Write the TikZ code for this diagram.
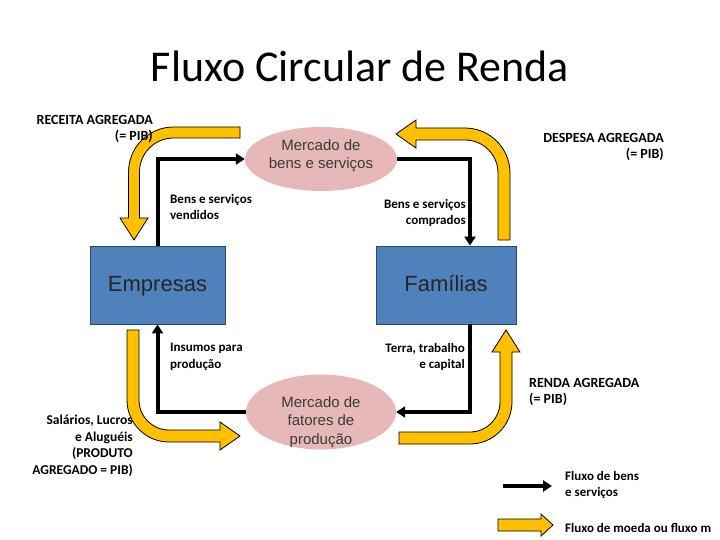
\documentclass[tikz,border=0pt]{standalone}
\usepackage{fontspec}
\setmainfont{Carlito}
\newfontfamily\arialf{Liberation Sans}
\usetikzlibrary{shapes.geometric,arrows.meta}
\definecolor{boxblue}{HTML}{4F81BD}
\definecolor{boxedge}{HTML}{2A4A75}
\definecolor{pinkell}{HTML}{E6B9B8}
\definecolor{goldarrow}{HTML}{FFC000}
\definecolor{mtext}{HTML}{3A3A3A}
\begin{document}
\begin{tikzpicture}[x=1pt,y=-1pt,
  agent/.style={draw=boxedge, line width=0.8pt, fill=boxblue, minimum height=78pt, inner sep=0pt, text height=16pt, text depth=4pt, font=\arialf\fontsize{22}{26}\selectfont, text=black!85},
  market/.style={ellipse, fill=pinkell, inner sep=0pt},
  mtxt/.style={align=center, font=\arialf\fontsize{15}{17.5}\selectfont, text=mtext, inner sep=0pt},
  lbl/.style={font=\bfseries\fontsize{13}{16.5}\selectfont, inner sep=0pt},
  caplbl/.style={font=\bfseries\fontsize{14}{16.5}\selectfont, inner sep=0pt},
  goods/.style={line width=4pt, -{Triangle[length=9pt,width=11pt]}},
  money/.style={draw=black, line width=0.8pt, fill=goldarrow, line join=miter},
]
\useasboundingbox (0,0) rectangle (720,540);
\clip (0,0) rectangle (720,540);

% title
\node (title) at (360,82) [anchor=base, inner sep=0pt, font=\fontsize{44}{50}\selectfont] {Fluxo Circular de Renda};

% agents
\node[agent, minimum width=135pt] (emp) at (157.5,285) {Empresas};
\node[agent, minimum width=140pt] (fam) at (446,285) {Famílias};

% markets
\node[market, minimum width=152pt, minimum height=64pt] (mbs) at (321,159) {};
\node[mtxt] (mbst) at (321,155.5) {Mercado de\\bens e serviços};
\node[market, minimum width=150pt, minimum height=75pt] (mfp) at (321,412) {};
\node[mtxt, font=\arialf\fontsize{15}{18.5}\selectfont] (mfpt) at (321,422) {Mercado de\\fatores de\\produção};

% goods flows (black)
\draw[goods] (emp.north) |- (mbs.west);
\draw[goods] (mbs.east) -| ([xshift=24pt]fam.north);
\draw[goods] ([xshift=24pt]fam.south) |- (mfp.east);
\draw[goods] (mfp.west) -| (emp.south);

% money flows (yellow)
% RECEITA AGREGADA
\path[money] (240,127) -- (173.5,127) .. controls (148.7,127) and (128.5,147.2) .. (128.5,172)
  -- (128.5,218) -- (120,218) -- (134,240) -- (148,218) -- (139.5,218) -- (139.5,172)
  .. controls (139.5,153.2) and (154.7,138) .. (173.5,138) -- (240,138) -- cycle;
% DESPESA AGREGADA
\path[money] (498,240) -- (498,173) .. controls (498,154.8) and (483.2,140) .. (465,140)
  -- (416,140) -- (416,148) -- (396,134) -- (416,120) -- (416,128) -- (465,128)
  .. controls (489.8,128) and (510,148.2) .. (510,173) -- (510,240) -- cycle;
% Salarios, Lucros e Alugueis
\path[money] (127,330) -- (127,400) .. controls (127,423.2) and (145.8,442) .. (169,442)
  -- (220,442) -- (220,450) -- (240,436) -- (220,422) -- (220,430) -- (169,430)
  .. controls (152.4,430) and (139,416.6) .. (139,400) -- (139,330) -- cycle;
% RENDA AGREGADA
\path[money] (399,432) -- (399,444) -- (470,444) .. controls (493.2,444) and (512,425.2) .. (512,402)
  -- (512,352) -- (520,352) -- (506,330) -- (492,352) -- (500,352) -- (500,402)
  .. controls (500,418.6) and (486.6,432) .. (470,432) -- cycle;

% labels
\node[caplbl, anchor=north east, align=right] (rec) at (153,115) {RECEITA AGREGADA\\(= PIB)};
\node[caplbl, anchor=north east, align=right] (desp) at (664,133) {DESPESA AGREGADA\\(= PIB)};
\node[lbl, anchor=north west, align=left] (bsv) at (170,194) {Bens e serviços\\vendidos};
\node[lbl, anchor=north east, align=right] (bsc) at (466,199) {Bens e serviços\\comprados};
\node[lbl, anchor=north west, align=left] (ins) at (170,343) {Insumos para\\produção};
\node[lbl, anchor=north east, align=right] (ter) at (465,343) {Terra, trabalho\\e capital};
\node[caplbl, anchor=north west, align=left] (ren) at (529,378) {RENDA AGREGADA\\(= PIB)};
\node[lbl, font=\bfseries\fontsize{13.5}{16.5}\selectfont, anchor=north east, align=right] (sal) at (133,415) {Salários, Lucros\\e Aluguéis\\(PRODUTO\\AGREGADO = PIB)};

% legend
\coordinate (lg1) at (503,486);
\coordinate (lg2) at (552,486);
\draw[goods] (lg1) -- (lg2);
\node[lbl, anchor=north west, align=left] (lgt1) at (565,471) {Fluxo de bens\\e serviços};
\path[money] (498,519) -- (541,519) -- (541,514) -- (553,525) -- (541,536) -- (541,531) -- (498,531) -- cycle;
\node[lbl, anchor=north west, align=left] (lgt2) at (565,523) {Fluxo de moeda ou fluxo m};
\end{tikzpicture}
\end{document}
